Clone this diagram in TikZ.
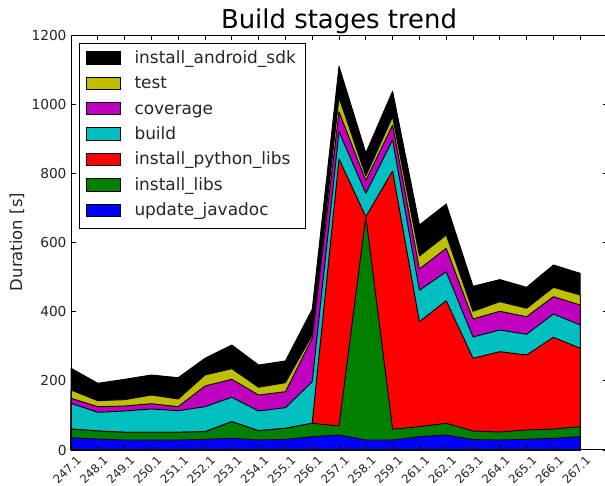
\documentclass[tikz,border=0pt]{standalone}
\usepackage{fontspec}
\setmainfont{DejaVu Sans}
\definecolor{mplK}{rgb}{0,0,0}
\definecolor{mplY}{rgb}{0.75,0.75,0}
\definecolor{mplM}{rgb}{0.75,0,0.75}
\definecolor{mplC}{rgb}{0,0.75,0.75}
\definecolor{mplR}{rgb}{1,0,0}
\definecolor{mplG}{rgb}{0,0.5,0}
\definecolor{mplB}{rgb}{0,0,1}
% cumulative stacked values (top of each layer)
\def\sK{236.3,192.9,204.4,216.9,209.1,265.2,303.6,245.8,257.4,406.9,1109.9,858.9,1037.6,650.7,711.4,473.4,492.8,470.5,535.0,511.0}
\def\sY{173.5,142.6,145.5,159.0,147.5,216.9,235.1,181.3,194.6,332.6,1019.4,792.4,963.9,561.0,621.7,401.1,428.9,409.8,470.5,448.2}
\def\sM{149.5,125.2,127.2,133.9,125.2,185.1,204.4,159.0,168.6,323.0,978.3,779.3,939.8,523.4,583.3,378.8,401.1,385.5,443.3,419.3}
\def\sC{135.0,109.0,112.8,118.6,113.6,125.2,152.4,112.8,122.3,197.5,920.5,742.3,896.5,461.8,515.6,326.8,347.0,334.6,393.3,361.5}
\def\sR{60.7,54.9,51.2,51.2,51.2,52.9,81.8,55.8,62.8,77.2,841.5,674.7,806.8,371.0,431.7,265.2,284.3,274.7,325.9,294.1}
\def\sG{60.7,54.9,51.2,51.2,51.2,52.9,81.8,55.8,62.8,77.2,69.4,674.7,59.9,67.4,77.2,54.9,52.1,57.8,60.7,67.4}
\def\sB{35.6,31.8,28.9,28.9,28.9,30.9,33.8,28.9,30.9,38.5,43.4,28.9,28.9,38.5,43.4,30.1,28.9,30.9,33.8,38.5}
\tikzset{
  area/.style={draw=black,line width=0.9bp,line join=round},
  spine/.style={draw=black,line width=1bp},
  tickmark/.style={draw=black,line width=0.8bp},
  ticklab/.style={font=\fontsize{13.8}{16}\selectfont,inner sep=0pt,text=black!85},
  xticklab/.style={font=\fontsize{11.8}{14}\selectfont,inner sep=0pt,text=black!85,rotate=45},
  legtext/.style={font=\fontsize{17}{20}\selectfont,inner sep=0pt,anchor=base west,text=black!85},
  legpatch/.style={draw=black,line width=0.8bp,minimum width=34.7bp,minimum height=12.3bp,inner sep=0pt},
  legframe/.style={draw=black,line width=1bp,fill=white}
}
\newcommand\stackarea[2]{%
  \path[area,fill=#1] (0,0) \foreach \v [count=\i from 0] in #2 { -- (\i,\v) } -- (19,0) -- cycle;}
\begin{document}
\begin{tikzpicture}[x=1bp,y=1bp]
\useasboundingbox (0,0) rectangle (605,486);
\clip (0,0) rectangle (605,486);
\fill[white] (0,0) rectangle (605,486);
\begin{scope}[xshift=71bp,yshift=36bp,x=26.8bp,y=0.3458bp]
  \stackarea{mplK}{\sK}
  \stackarea{mplY}{\sY}
  \stackarea{mplM}{\sM}
  \stackarea{mplC}{\sC}
  \stackarea{mplR}{\sR}
  \stackarea{mplG}{\sG}
  \stackarea{mplB}{\sB}
  % ticks
  \foreach \v in {0,200,...,1200} {
    \draw[tickmark] (0,\v) -- ++(4.5bp,0);
    \draw[tickmark] (20,\v) -- ++(-4.5bp,0);
    \node[ticklab,anchor=east] (yt\v) at ([xshift=-4.3bp]0,\v) {\v};
  }
  \foreach \lab [count=\i from 0] in {247.1,248.1,249.1,250.1,251.1,252.1,253.1,254.1,255.1,256.1,257.1,258.1,259.1,261.1,262.1,263.1,264.1,265.1,266.1,267.1} {
    \draw[tickmark] (\i,0) -- ++(0,4.5bp);
    \draw[tickmark] (\i,1200) -- ++(0,-4.5bp);
    \node[xticklab] (xt\i) at ([xshift=-4bp,yshift=-20bp]\i,0) {\lab};
  }
  \draw[spine] (0,0) rectangle (20,1200);
\end{scope}
\node[font=\fontsize{26}{30}\selectfont,anchor=base,inner sep=0pt] (title) at (339,457.7) {Build stages trend};
\node[font=\fontsize{16.5}{19}\selectfont,rotate=90,inner sep=0pt,text=black!85] (ylab) at (17,244) {Duration [s]};
% legend
\draw[legframe] (79.3,257.7) rectangle (305,442.7);
\foreach \name/\col [count=\k from 0] in {install\_android\_sdk/mplK,test/mplY,coverage/mplM,build/mplC,install\_python\_libs/mplR,install\_libs/mplG,update\_javadoc/mplB} {
  \pgfmathsetmacro\cy{486-57.8-25.4*\k}
  \node[legpatch,fill=\col] (lp\k) at (103.35,\cy) {};
  \node[legtext] (lt\k) at (134.3,\cy-5.5) {\name};
}
\end{tikzpicture}
\end{document}
